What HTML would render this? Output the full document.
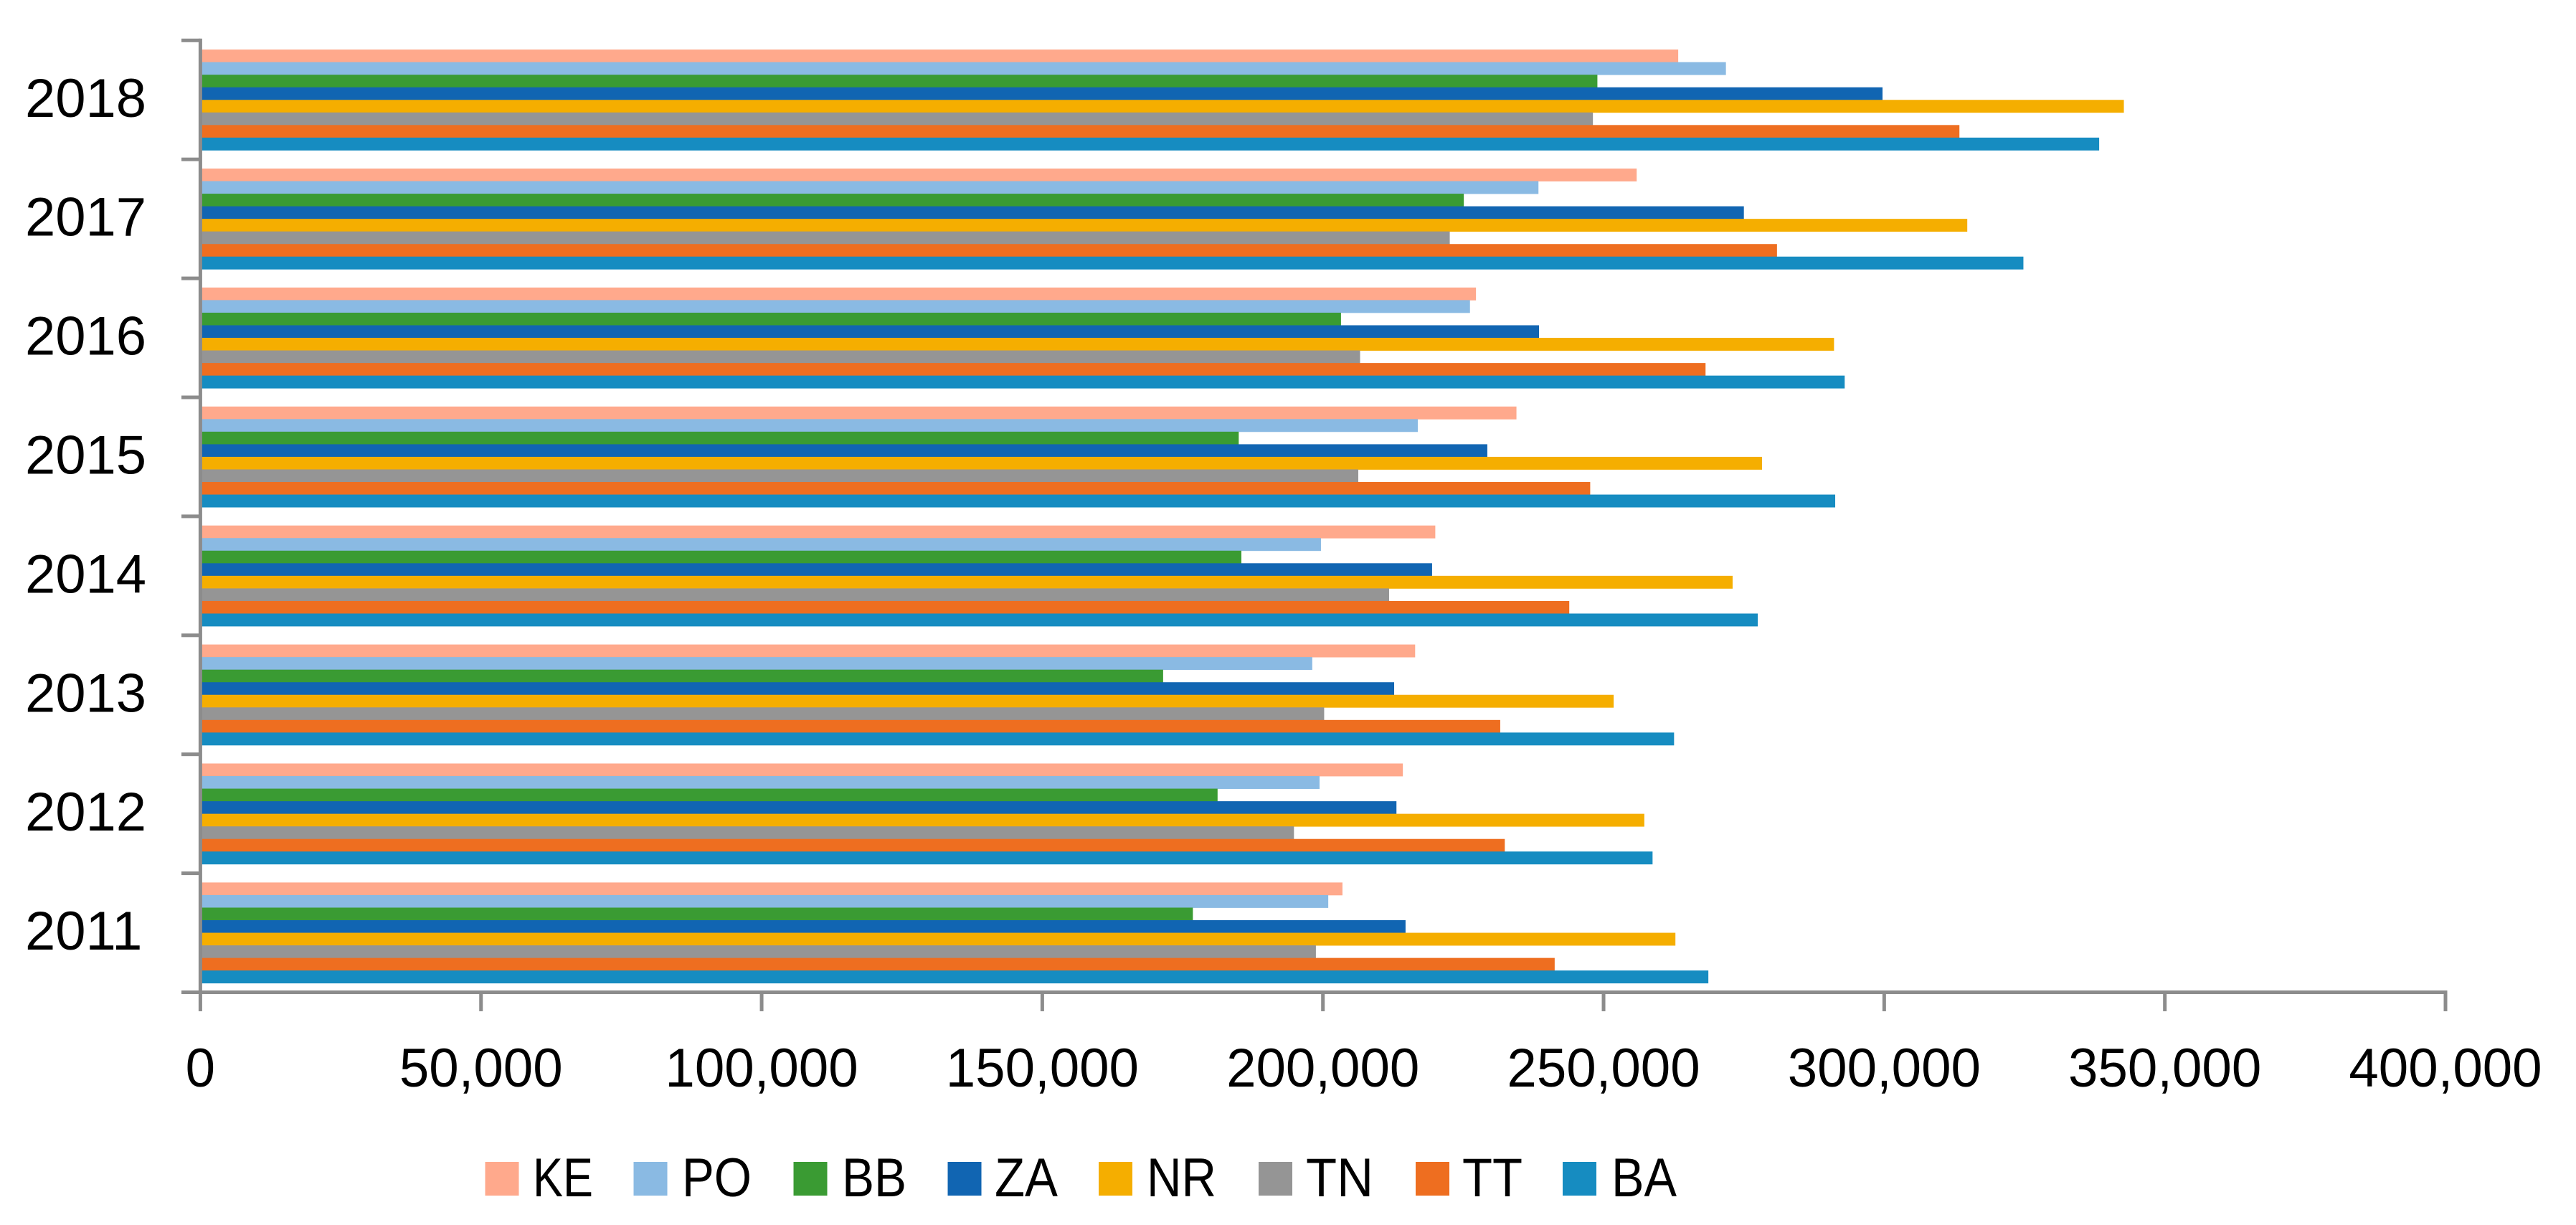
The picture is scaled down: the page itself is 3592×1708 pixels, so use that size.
<!DOCTYPE html>
<html lang="en">
<head>
<meta charset="utf-8">
<title>Bar chart 2011-2018</title>
<style>
html,body{margin:0;padding:0;background:#fff;}
svg{display:block;}
text{font-family:"Liberation Sans",sans-serif;fill:#000;}
</style>
</head>
<body>
<svg id="chart" xmlns="http://www.w3.org/2000/svg" width="3592" height="1708" viewBox="0 0 3592 1708">
  <rect x="0" y="0" width="3592" height="1708" fill="#ffffff"/>
  <g id="bars"></g>
  <g id="axes"></g>
  <g id="legend">
    <g>
      <rect x="676.5" y="1620" width="47" height="47" fill="#FFA98C"/>
      <text x="743" y="1668" font-size="76" textLength="84" lengthAdjust="spacingAndGlyphs">KE</text>
    </g>
    <g>
      <rect x="883.5" y="1620" width="47" height="47" fill="#8ABAE3"/>
      <text x="951" y="1668" font-size="76" textLength="97" lengthAdjust="spacingAndGlyphs">PO</text>
    </g>
    <g>
      <rect x="1106.5" y="1620" width="47" height="47" fill="#3A9B33"/>
      <text x="1174" y="1668" font-size="76" textLength="90" lengthAdjust="spacingAndGlyphs">BB</text>
    </g>
    <g>
      <rect x="1321.5" y="1620" width="47" height="47" fill="#1165B2"/>
      <text x="1387" y="1668" font-size="76" textLength="88" lengthAdjust="spacingAndGlyphs">ZA</text>
    </g>
    <g>
      <rect x="1532" y="1620" width="47" height="47" fill="#F5AE00"/>
      <text x="1599" y="1668" font-size="76" textLength="97" lengthAdjust="spacingAndGlyphs">NR</text>
    </g>
    <g>
      <rect x="1755" y="1620" width="47" height="47" fill="#959595"/>
      <text x="1821" y="1668" font-size="76" textLength="94" lengthAdjust="spacingAndGlyphs">TN</text>
    </g>
    <g>
      <rect x="1974" y="1620" width="47" height="47" fill="#EE6E20"/>
      <text x="2039" y="1668" font-size="76" textLength="84" lengthAdjust="spacingAndGlyphs">TT</text>
    </g>
    <g>
      <rect x="2179" y="1620" width="47" height="47" fill="#168CC1"/>
      <text x="2247" y="1668" font-size="76" textLength="91" lengthAdjust="spacingAndGlyphs">BA</text>
    </g>
  </g>
</svg>
<script>
const categories = ["2018", "2017", "2016", "2015", "2014", "2013", "2012", "2011"];
const seriesNames = ["KE", "PO", "BB", "ZA", "NR", "TN", "TT", "BA"];
const seriesColors = ["#FFA98C", "#8ABAE3", "#3A9B33", "#1165B2", "#F5AE00", "#959595", "#EE6E20", "#168CC1"];
const ke = [263300, 255900, 227270, 234480, 220020, 216430, 214240, 203480];
const po = [271800, 238400, 226200, 216900, 199650, 198100, 199400, 200950];
const bb = [248900, 225100, 203220, 185000, 185470, 171530, 181230, 176830];
const za = [299700, 275000, 238500, 229290, 219450, 212690, 213100, 214720];
const nr = [342700, 314800, 291060, 278240, 272990, 251800, 257260, 262800];
const tn = [248100, 222600, 206620, 206300, 211790, 200220, 194840, 198750];
const tt = [313400, 280900, 268170, 247620, 243890, 231590, 232400, 241290];
const ba = [338300, 324800, 292960, 291270, 277470, 262560, 258730, 268670];
const xTickValues = [0, 50000, 100000, 150000, 200000, 250000, 300000, 350000, 400000];
const xTickLabels = ["0", "50,000", "100,000", "150,000", "200,000", "250,000", "300,000", "350,000", "400,000"];

const allSeries = [ke, po, bb, za, nr, tn, tt, ba];
const NS = "http://www.w3.org/2000/svg";
const plotLeft = 279.4, plotRight = 3410, plotTop = 56.3, plotBottom = 1383.5;
const axisMax = 400000;
const axisColor = "#8C8C8C";

function xScale(v) { return plotLeft + (v / axisMax) * (plotRight - plotLeft); }
function bandStep() { return (plotBottom - plotTop) / categories.length; }
function bandTop(i) { return plotTop + i * bandStep(); }

function make(tag, attrs, parent) {
  const el = document.createElementNS(NS, tag);
  for (const k in attrs) el.setAttribute(k, attrs[k]);
  parent.appendChild(el);
  return el;
}

const barsGroup = document.getElementById("bars");
const axesGroup = document.getElementById("axes");
const barPad = 12.8;
const barHeight = (bandStep() - 2 * barPad) / seriesNames.length;

categories.forEach(function (cat, c) {
  seriesNames.forEach(function (name, s) {
    const rect = make("rect", {
      x: plotLeft,
      y: bandTop(c) + barPad + s * barHeight,
      width: xScale(allSeries[s][c]) - plotLeft,
      height: barHeight + 0.4,
      fill: seriesColors[s]
    }, barsGroup);
    
    
  });
});

const yAxisLine = make("rect", { x: plotLeft - 2.5, y: plotTop - 2.5, width: 5, height: plotBottom - plotTop + 5, fill: axisColor }, axesGroup);



const xAxisLine = make("rect", { x: 253, y: plotBottom - 2.5, width: plotRight - 253 + 2.5, height: 5, fill: axisColor }, axesGroup);



for (let i = 0; i < categories.length; i++) {
  const tick = make("rect", { x: 253, y: bandTop(i) - 2.5, width: plotLeft - 253, height: 5, fill: axisColor }, axesGroup);
  
  
  const label = make("text", { x: 35, y: bandTop(i) + bandStep() / 2 + 23.5, "font-size": 76 }, axesGroup);
  label.textContent = categories[i];
  
  
}

xTickValues.forEach(function (v, i) {
  const tick = make("rect", { x: xScale(v) - 2.5, y: plotBottom, width: 5, height: 26.5, fill: axisColor }, axesGroup);
  
  
  const label = make("text", { x: xScale(v), y: 1515, "font-size": 76, "text-anchor": "middle" }, axesGroup);
  label.textContent = xTickLabels[i];
  
  
  label.setAttribute('textLength', label.getComputedTextLength() * 0.98);
  label.setAttribute('lengthAdjust', 'spacingAndGlyphs');
});
</script>
</body>
</html>
